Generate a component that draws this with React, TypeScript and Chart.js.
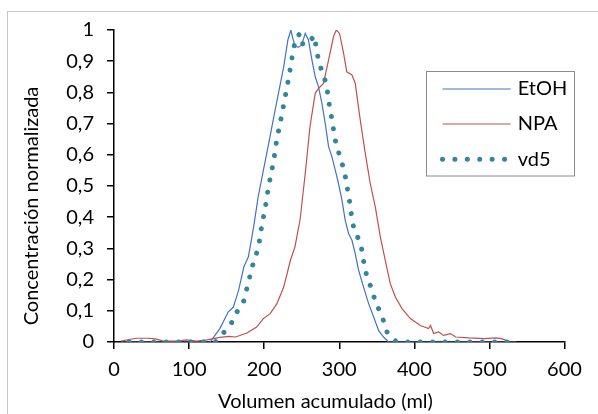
import React, { useEffect, useRef } from "react";
import { Chart, registerables } from "chart.js";

Chart.register(...registerables);

// EtOH series (volume ml, normalized concentration)
const etohX = [10, 128, 141, 152, 159, 166, 173, 179, 186, 192, 199, 206, 212, 219, 226, 231.6, 235.6, 238, 241.3, 246, 250, 254.7, 259, 263.6, 268, 272.4, 276.9, 281.3, 285.8, 290.2, 294.7, 299, 303.6, 308, 312.4, 316.9, 321.3, 325.8, 332.4, 339.1, 345.8, 352.4, 359, 365.8, 536];
const etohY = [0, 0, 0.043, 0.096, 0.112, 0.166, 0.241, 0.273, 0.369, 0.465, 0.551, 0.636, 0.711, 0.797, 0.882, 0.968, 1.0, 0.975, 0.947, 0.945, 0.952, 0.989, 0.968, 0.904, 0.85, 0.818, 0.765, 0.701, 0.626, 0.594, 0.551, 0.508, 0.455, 0.39, 0.348, 0.326, 0.283, 0.23, 0.176, 0.123, 0.08, 0.037, 0.016, 0, 0];

// NPA series
const npaX = [9, 20, 30, 45, 55, 66, 84, 97, 110, 124, 141, 153, 162, 177, 190, 199, 208, 217, 226, 235, 241, 248, 254.7, 261, 268, 272.4, 279, 285.8, 292.4, 296, 300.4, 305.8, 310, 316.9, 321.3, 328, 334.7, 341.3, 348, 354.7, 361.3, 368, 374.7, 383.6, 394.7, 408, 419, 421.5, 425.8, 432.4, 439, 448, 455, 473, 493, 508.6, 516, 526];
const npaY = [0.003, 0.008, 0.012, 0.012, 0.01, 0.003, 0.003, 0.007, 0.003, 0.007, 0.015, 0.018, 0.016, 0.029, 0.048, 0.075, 0.091, 0.123, 0.176, 0.262, 0.305, 0.395, 0.54, 0.69, 0.797, 0.813, 0.829, 0.904, 0.979, 1.0, 0.989, 0.925, 0.866, 0.856, 0.829, 0.711, 0.604, 0.508, 0.433, 0.337, 0.262, 0.187, 0.144, 0.107, 0.075, 0.053, 0.043, 0.053, 0.027, 0.032, 0.021, 0.027, 0.016, 0.013, 0.011, 0.013, 0.011, 0.002];

// vd5 series
const vd5X = [20, 135, 146, 156, 163, 172, 176, 180, 184, 189, 193, 195.5, 198.5, 201.5, 204, 206.6, 210, 213, 215.2, 218, 221.3, 224.4, 227.4, 230.5, 233.5, 236, 238.8, 242, 248, 251.8, 261, 267.5, 269, 272.5, 277, 282.5, 285, 287.3, 290.3, 292.8, 295.7, 300.5, 305.2, 308.8, 311.4, 314.2, 316.3, 319.2, 325.5, 330.3, 332.7, 336.2, 341.7, 346.7, 352.6, 358.8, 363.8, 375, 391, 538];
const vd5Y = [0, 0, 0.03, 0.059, 0.094, 0.125, 0.163, 0.201, 0.241, 0.276, 0.313, 0.354, 0.393, 0.431, 0.47, 0.508, 0.548, 0.586, 0.625, 0.663, 0.702, 0.74, 0.779, 0.818, 0.857, 0.896, 0.935, 0.974, 0.989, 0.952, 0.966, 0.982, 0.943, 0.904, 0.866, 0.83, 0.79, 0.752, 0.713, 0.674, 0.635, 0.598, 0.56, 0.522, 0.483, 0.444, 0.405, 0.366, 0.331, 0.294, 0.255, 0.216, 0.179, 0.141, 0.105, 0.069, 0.031, 0.003, 0, 0];

const seriesNames = ["EtOH", "NPA", "vd5"];
const xTitle = "Volumen acumulado (ml)";
const yTitle = "Concentración normalizada";

const FONT = "Lato";
const FSIZE = 20;

const toPts = (xs: number[], ys: number[]) => xs.map((x, i) => ({ x, y: ys[i] }));

const decorPlugin = {
  id: "decor",
  beforeDraw(chart: any) {
    const ctx = chart.ctx;
    ctx.save();
    ctx.fillStyle = "#ffffff";
    ctx.fillRect(0, 0, chart.width, chart.height);
    ctx.strokeStyle = "#c6c6c6";
    ctx.lineWidth = 1;
    ctx.strokeRect(7.5, 11.5, 800, 600);
    ctx.restore();
  },
  afterDraw(chart: any) {
    const ctx = chart.ctx;
    ctx.save();
    ctx.fillStyle = "#000";
    ctx.font = `${FSIZE}px ${FONT}`;
    ctx.textAlign = "center";
    ctx.textBaseline = "alphabetic";
    ctx.fillText(xTitle, 325.5, 408);
    ctx.save();
    ctx.translate(38.3, 206);
    ctx.rotate(-Math.PI / 2);
    ctx.fillText(yTitle, 0, 0);
    ctx.restore();

    // legend
    ctx.strokeStyle = "#8c8c8c";
    ctx.lineWidth = 1;
    ctx.strokeRect(426.5, 71.5, 148, 104.5);
    const rows = [89, 124, 159.3];
    const base = [95, 130, 165.5];
    chart.data.datasets.forEach((ds: any, i: number) => {
      ctx.save();
      ctx.strokeStyle = ds.borderColor;
      ctx.lineWidth = ds.borderWidth;
      ctx.lineCap = ds.borderCapStyle || "butt";
      ctx.setLineDash(ds.borderDash || []);
      ctx.beginPath();
      ctx.moveTo(442.5, rows[i]);
      ctx.lineTo(i === 2 ? 506 : 510.7, rows[i]);
      ctx.stroke();
      ctx.restore();
      ctx.fillStyle = "#000";
      ctx.textAlign = "left";
      ctx.font = `${FSIZE}px ${FONT}`;
      ctx.fillText(ds.label, 517.7, base[i]);
    });
    ctx.restore();
  },
};

export default function App() {
  const ref = useRef<HTMLCanvasElement | null>(null);
  useEffect(() => {
    if (!ref.current) return;
    const chart = new Chart(ref.current, {
      type: "line",
      data: {
        datasets: [
          {
            label: seriesNames[0],
            data: toPts(etohX, etohY),
            borderColor: "#4472C4",
            borderWidth: 1.2,
            pointRadius: 0,
            tension: 0,
            order: 2,
          },
          {
            label: seriesNames[1],
            data: toPts(npaX, npaY),
            borderColor: "#C0504D",
            borderWidth: 1.2,
            pointRadius: 0,
            tension: 0,
            order: 1,
          },
          {
            label: seriesNames[2],
            data: toPts(vd5X, vd5Y),
            borderColor: "#31859C",
            borderWidth: 5,
            borderDash: [0.01, 12.4],
            borderCapStyle: "round",
            borderJoinStyle: "round",
            pointRadius: 0,
            tension: 0,
            order: 0,
          },
        ] as any,
      },
      plugins: [decorPlugin],
      options: {
        animation: false,
        responsive: false,
        devicePixelRatio: 1,
        layout: { padding: { left: 0, top: 30, right: 33.5, bottom: 0 } },
        plugins: {
          legend: { display: false },
          tooltip: { enabled: false },
          title: { display: false },
        },
        scales: {
          x: {
            type: "linear",
            min: 0,
            max: 600,
            ticks: {
              stepSize: 100,
              color: "#000",
              font: { family: FONT, size: FSIZE },
              padding: 9,
              maxRotation: 0,
            },
            grid: {
              drawOnChartArea: false,
              drawTicks: true,
              tickLength: 7,
              color: "#000",
              lineWidth: 1.5,
            },
            border: { display: true, color: "#000", width: 1.5 },
            afterFit: (s: any) => {
              s.height = 72;
            },
          },
          y: {
            type: "linear",
            min: 0,
            max: 1,
            ticks: {
              stepSize: 0.1,
              color: "#000",
              font: { family: FONT, size: FSIZE },
              padding: 13,
              callback: (v: any) => {
                const n = Math.round(Number(v) * 10) / 10;
                if (n === 0) return "0";
                if (n === 1) return "1";
                return n.toFixed(1).replace(".", ",");
              },
            },
            grid: {
              drawOnChartArea: false,
              drawTicks: true,
              tickLength: 7,
              color: "#000",
              lineWidth: 1.5,
            },
            border: { display: true, color: "#000", width: 1.5 },
            afterFit: (s: any) => {
              s.width = 114;
            },
          },
        },
      } as any,
    });
    return () => chart.destroy();
  }, []);
  return (
    <div style={{ position: "fixed", left: 0, top: 0, width: 598, height: 414, background: "#fff" }}>
      <canvas ref={ref} width={598} height={414} style={{ display: "block", width: 598, height: 414 }} />
    </div>
  );
}
